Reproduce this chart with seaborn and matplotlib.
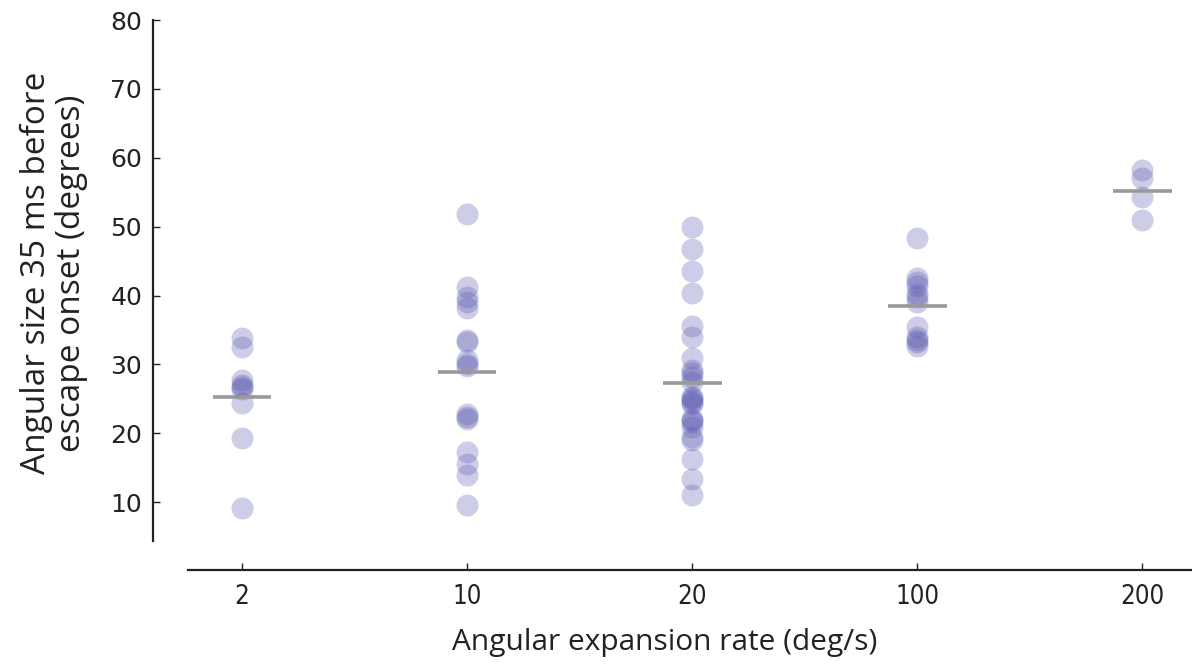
import numpy as np
import pandas as pd
import matplotlib
matplotlib.use('Agg')
from matplotlib import pyplot as plt
import seaborn as sns

# 数据：每个扩张速率下的角度大小
rates = ['2', '10', '20', '100', '200']
size_2 = [33.8, 32.6, 27.7, 27.0, 26.7, 26.4, 24.4, 19.4, 9.1]
size_10 = [51.9, 41.3, 39.8, 39.0, 38.2, 33.6, 33.3, 30.6, 30.1, 29.8,
           22.8, 22.4, 22.1, 17.3, 15.6, 13.9, 9.6]
size_20 = [49.9, 46.7, 43.5, 40.4, 35.6, 34.0, 30.9, 29.2, 28.7, 28.2,
           27.5, 25.3, 25.2, 24.8, 24.6, 24.3, 22.1, 21.9, 21.7, 20.9,
           19.5, 19.0, 16.3, 13.4, 11.0]
size_100 = [48.4, 42.5, 42.0, 41.4, 40.3, 39.8, 39.0, 35.5, 34.0, 33.6, 33.2, 32.7]
size_200 = [58.2, 57.0, 54.3, 51.0]

groups = [size_2, size_10, size_20, size_100, size_200]
df = pd.DataFrame({
    'rate': np.repeat(rates, [len(g) for g in groups]),
    'size': np.concatenate(groups),
})

sns.set_style('ticks')
plt.rcParams['font.family'] = ['DejaVu Sans']

fig = plt.figure(figsize=(11.92, 6.66), dpi=100)
ax = fig.add_axes([188 / 1192, 1 - 541 / 666, 1 - 188 / 1192, (541 - 20) / 666])

sns.stripplot(data=df, x='rate', y='size', order=rates, jitter=False,
              color='#5b5bb0', alpha=0.3, s=15.8, linewidth=0, ax=ax, zorder=2)

# 均值横线
means = df.groupby('rate', sort=False)['size'].mean().reindex(rates)
ax.hlines(means.values, np.arange(len(rates)) - 0.13, np.arange(len(rates)) + 0.13,
          color='#999999', linewidth=2.6, zorder=3)

ax.set_xlim(-0.24, 4.22)
ax.set_ylim(4.38, 80)
ax.set_yticks([10, 20, 30, 40, 50, 60, 70, 80])

# 坐标轴样式：分离的坐标轴，刻度朝内
for s in ['top', 'right']:
    ax.spines[s].set_visible(False)
ax.spines['left'].set_position(('outward', 25))
ax.spines['bottom'].set_position(('outward', 21))
ax.spines['left'].set_linewidth(1.6)
ax.spines['bottom'].set_linewidth(1.6)
ax.spines['left'].set_color('#222222')
ax.spines['bottom'].set_color('#222222')
ax.tick_params(axis='both', direction='in', length=5, width=1, colors='#222222',
               labelsize=18)
ax.tick_params(axis='y', pad=8)
ax.tick_params(axis='x', pad=10)
ax.set_xticks(range(len(rates)))
ax.set_xticklabels(rates, fontstretch='condensed', fontsize=18.5)
ax.set_yticks([10, 20, 30, 40, 50, 60, 70, 80])
ax.set_yticklabels(['10', '20', '30', '40', '50', '60', '70', '80'],
                   fontstretch='normal', fontsize=18)

ax.set_xlabel('Angular expansion rate (deg/s)', fontsize=21.5, color='#222222',
              family=['Open Sans', 'DejaVu Sans'])
ax.set_ylabel('Angular size 35 ms before\nescape onset (degrees)', fontsize=24,
              color='#222222', linespacing=1.05,
              family=['Open Sans', 'DejaVu Sans'])
ax.xaxis.set_label_coords(0.475, -0.167)
ax.yaxis.set_label_coords(-0.10, 0.514)

plt.savefig('out.png', dpi=100)
